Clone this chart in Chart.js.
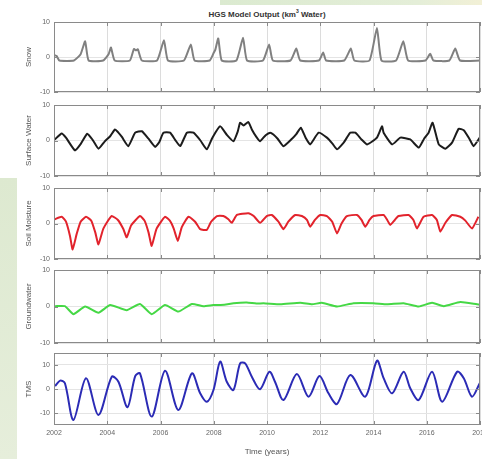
<!DOCTYPE html>
<html>
<head>
<meta charset="utf-8">
<script src="https://cdn.jsdelivr.net/npm/chart.js@4.4.0/dist/chart.umd.min.js"></script>
<style>
body{margin:0;width:482px;height:459px;background:#fff;position:relative;overflow:hidden;font-family:"Liberation Sans",Arial,sans-serif}
.bgTop{position:absolute;left:220px;top:0;width:262px;height:5px;background:linear-gradient(90deg,#dbead0,#e4eed8 75%,#f2f0d6)}
.bgLeft{position:absolute;left:0;top:178px;width:17px;height:281px;background:linear-gradient(180deg,#dde9d0,#e6eedb)}
#title{position:absolute;top:8px;left:54px;width:426px;text-align:center;font-weight:bold;font-size:8px;color:#333}
canvas{position:absolute;left:0}
</style>
</head>
<body>
<div class="bgTop"></div>
<div class="bgLeft"></div>
<div id="title">HGS Model Output (km<sup style="font-size:5px">3</sup> Water)</div>
<canvas id="p0" width="482"></canvas>
<canvas id="p1" width="482"></canvas>
<canvas id="p2" width="482"></canvas>
<canvas id="p3" width="482"></canvas>
<canvas id="p4" width="482"></canvas>
<script>
// tick labels
const xTickValues = [2002, 2004, 2006, 2008, 2010, 2012, 2014, 2016, 2018];
const xTickLabels = ['2002', '2004', '2006', '2008', '2010', '2012', '2014', '2016', '2018'];
const yTickValues = [-10, 0, 10];
const yTickLabels = ['-10', '0', '10'];
const panelNames = ['Snow', 'Surface Water', 'Soil Moisture', 'Groundwater', 'TMS'];

// series values: [year, km3]
const snow = [[2002.0,0.6],[2002.1,0.3],[2002.2,-1],[2002.75,-1],[2003.0,0.8],[2003.17,4.5],[2003.3,-1],
  [2003.85,-1],[2004.05,0.8],[2004.14,2.7],[2004.28,-1],[2004.85,-1],[2005.0,2.3],[2005.08,1.9],[2005.15,2.2],[2005.3,-1],
  [2005.87,-1],[2006.13,4.8],[2006.28,-1],[2006.88,-1],[2007.14,3.6],[2007.28,-1],[2007.85,-1],[2008.0,1.2],[2008.06,2.1],
  [2008.17,5.3],[2008.3,-1],[2008.85,-1],[2009.1,5.5],[2009.25,-1],[2009.85,-1],[2010.08,3.6],[2010.22,-1],[2010.88,-1],
  [2011.1,2.4],[2011.25,-1],[2011.95,-1],[2012.11,1.3],[2012.22,-1],[2012.9,-1],[2013.15,2.4],[2013.28,-1],[2013.85,-1],
  [2014.13,8.3],[2014.3,-1],[2014.85,-1],[2015.12,4.5],[2015.3,-1],[2015.95,-1],[2016.13,0.9],[2016.25,-1],[2016.85,-1],
  [2017.07,2.4],[2017.25,-1],[2018.0,-1]];
const surfaceWater = [[2002.03,0.3],[2002.29,2.0],[2002.45,0.8],[2002.79,-2.8],[2003.0,-1.0],[2003.25,1.9],[2003.45,0.2],
  [2003.67,-2.3],[2003.9,-0.3],[2004.11,1.2],[2004.29,3.1],[2004.41,2.3],[2004.55,1.0],[2004.79,-1.6],[2005.05,2.2],
  [2005.3,2.6],[2005.55,0.5],[2005.8,-1.8],[2005.95,-0.5],[2006.11,2.2],[2006.36,2.2],[2006.55,0.2],[2006.74,-1.6],
  [2006.99,2.2],[2007.24,2.2],[2007.5,0.0],[2007.74,-2.5],[2007.95,0.8],[2008.24,4.0],[2008.5,1.5],[2008.74,-0.2],
  [2008.9,2.5],[2008.99,5.0],[2009.12,4.2],[2009.3,5.2],[2009.43,3.1],[2009.6,1.0],[2009.74,-0.2],[2009.95,1.5],
  [2010.12,2.2],[2010.24,1.7],[2010.4,0.5],[2010.62,-1.6],[2010.94,0.5],[2011.1,1.8],[2011.27,3.6],[2011.45,0.8],
  [2011.62,-1.1],[2011.94,2.2],[2012.25,0.8],[2012.45,-0.8],[2012.63,-2.5],[2012.88,-0.6],[2013.0,0.8],[2013.13,2.2],
  [2013.32,2.2],[2013.55,0.3],[2013.76,-1.1],[2014.13,0.8],[2014.32,4.0],[2014.38,2.2],[2014.7,-1.1],[2015.01,0.8],
  [2015.38,0.3],[2015.7,-2.0],[2015.9,0.5],[2016.07,2.2],[2016.22,5.0],[2016.45,-1.1],[2016.7,-2.3],[2016.95,-0.6],
  [2017.2,3.3],[2017.39,2.9],[2017.6,0.5],[2017.76,-1.6],[2017.99,0.8]];
const soilMoisture = [[2002.03,1.2],[2002.29,1.9],[2002.45,0.5],[2002.6,-3.5],[2002.7,-7.3],[2002.85,-3],[2003.0,0.5],
  [2003.2,1.9],[2003.4,0.8],[2003.55,-2.5],[2003.67,-5.9],[2003.85,-1.5],[2004.16,2.1],[2004.4,1.0],[2004.6,-1.5],
  [2004.73,-3.9],[2004.9,-0.5],[2005.23,2.1],[2005.4,0.8],[2005.55,-2.5],[2005.67,-6.3],[2005.85,-1.5],[2006.17,1.9],
  [2006.35,0.8],[2006.5,-1.5],[2006.65,-4.9],[2006.8,-1.0],[2007.05,1.9],[2007.3,0.5],[2007.49,-1.6],[2007.74,-1.8],
  [2007.9,0.5],[2008.12,2.1],[2008.36,2.1],[2008.55,1.2],[2008.68,0.2],[2008.87,2.4],[2009.3,2.9],[2009.5,2.1],
  [2009.74,0.2],[2009.99,2.1],[2010.18,2.4],[2010.43,0.5],[2010.62,-1.6],[2010.8,0.5],[2011.06,2.4],[2011.31,2.1],
  [2011.5,1.0],[2011.62,-0.9],[2011.8,1.0],[2012.0,2.4],[2012.25,2.1],[2012.45,0.5],[2012.63,-2.8],[2012.8,0],
  [2013.0,2.1],[2013.38,2.4],[2013.55,1.0],[2013.69,-0.9],[2013.85,1.0],[2014.0,2.1],[2014.38,2.4],[2014.5,1.2],
  [2014.63,-0.4],[2014.8,1.0],[2014.94,2.1],[2015.32,2.4],[2015.5,1.0],[2015.63,-1.4],[2015.88,1.9],[2016.2,2.4],
  [2016.38,1.0],[2016.51,-2.3],[2016.7,0.2],[2016.95,2.4],[2017.26,1.9],[2017.45,0.8],[2017.7,-1.4],[2017.94,1.9]];
const groundwater = [[2002.04,0.1],[2002.41,0.1],[2002.73,-2.1],[2003.17,0],[2003.67,-1.7],[2004.11,0.4],[2004.73,-1.0],
  [2005.23,0.7],[2005.67,-2.1],[2006.17,0.4],[2006.67,-1.4],[2007.18,0.7],[2007.61,0.1],[2007.99,0.4],[2008.4,0.5],
  [2008.74,0.9],[2009.24,1.1],[2009.6,0.8],[2009.87,0.9],[2010.5,0.6],[2011.25,1.0],[2011.69,0.6],[2012.06,1.0],
  [2012.63,0.0],[2013.25,0.9],[2014.0,0.9],[2014.51,0.6],[2015.13,0.9],[2015.7,0.0],[2016.2,1.0],[2016.64,0.1],
  [2017.26,1.2],[2017.89,0.6],[2018.0,0.5]];
const tms = [[2002.04,1.25],[2002.23,3.5],[2002.41,2.4],[2002.73,-12.9],[2003.2,4.5],[2003.67,-10.8],[2004.17,5.1],
  [2004.42,3.0],[2004.76,-7.6],[2005.05,5.4],[2005.23,6.5],[2005.67,-11.5],[2006.17,7.6],[2006.67,-8.75],[2007.18,6.5],
  [2007.49,-1.8],[2007.74,-5.3],[2007.99,-0.4],[2008.24,11.4],[2008.49,3.0],[2008.74,-0.4],[2008.99,10.7],[2009.18,10.7],
  [2009.43,5.1],[2009.74,-0.1],[2010.09,7.2],[2010.3,3.0],[2010.62,-4.6],[2011.12,6.25],[2011.56,-3.2],[2011.97,5.4],
  [2012.31,-1.8],[2012.63,-6.25],[2013.13,5.8],[2013.69,-3.2],[2014.13,11.8],[2014.38,4.5],[2014.7,-1.8],[2015.13,7.2],
  [2015.38,0.3],[2015.7,-4.6],[2016.2,7.2],[2016.58,-5.3],[2017.14,7.2],[2017.39,4.5],[2017.7,-3.2],[2017.99,2.4]];

const seriesList = [snow, surfaceWater, soilMoisture, groundwater, tms];
const yRanges = [[-10, 10], [-10, 10], [-10, 10], [-10, 10], [-15, 15]];

// layout (plot box tops / bottoms in page px)
const boxTop = [22, 105, 188, 270, 353];
const boxBottom = [92, 176, 259, 343, 425];
const colors = ['#808080', '#1c1c1c', '#e2232c', '#45d845', '#2b2bb5'];

const boxPlugin = {
  id: 'box',
  afterDraw(chart) {
    const { ctx, chartArea: a, scales } = chart;
    ctx.save();
    ctx.strokeStyle = '#8a8a8a';
    ctx.lineWidth = 1;
    ctx.strokeRect(a.left + 0.5, a.top + 0.5, a.right - a.left - 1, a.bottom - a.top - 1);
    ctx.beginPath();
    xTickValues.forEach(v => {
      const px = Math.round(scales.x.getPixelForValue(v)) + 0.5;
      ctx.moveTo(px, a.top); ctx.lineTo(px, a.top + 4);
      ctx.moveTo(px, a.bottom); ctx.lineTo(px, a.bottom - 4);
    });
    yTickValues.forEach(v => {
      const py = Math.round(scales.y.getPixelForValue(v)) + 0.5;
      ctx.moveTo(a.left, py); ctx.lineTo(a.left + 4, py);
      ctx.moveTo(a.right, py); ctx.lineTo(a.right - 4, py);
    });
    ctx.stroke();
    ctx.restore();
  }
};

function makePanel(i) {
  const last = i === 4;
  const canvas = document.getElementById('p' + i);
  const top = boxTop[i] - 6;
  const bottomExtra = last ? 34 : 6;
  canvas.style.top = top + 'px';
  canvas.height = boxBottom[i] - boxTop[i] + 6 + bottomExtra;

  return new Chart(canvas.getContext('2d'), {
    type: 'line',
    data: {
      datasets: [{
        data: seriesList[i].map(p => ({ x: p[0], y: p[1] })),
        borderColor: colors[i],
        borderWidth: 2,
        pointRadius: 0,
        tension: last ? 0.3 : 0.15,
        fill: false
      }]
    },
    options: {
      responsive: false,
      animation: false,
      layout: { padding: { top: 6, bottom: last ? 0 : 6, left: 0, right: 2 } },
      plugins: { legend: { display: false }, tooltip: { enabled: false } },
      scales: {
        x: {
          type: 'linear',
          min: 2002,
          max: 2018,
          afterBuildTicks: s => { s.ticks = xTickValues.map(v => ({ value: v })); },
          afterFit: s => { s.height = last ? 34 : 0; s.paddingLeft = 0; s.paddingRight = 0; },
          ticks: {
            display: last,
            padding: 4,
            color: '#666',
            font: { size: 7, family: 'Liberation Sans' },
            maxRotation: 0,
            autoSkip: false,
            callback: (v, idx) => xTickLabels[idx]
          },
          grid: { color: '#dcdcdc', drawTicks: false },
          border: { display: false },
          title: {
            display: last,
            text: 'Time (years)',
            color: '#555',
            font: { size: 8, family: 'Liberation Sans' },
            padding: { top: 6, bottom: 2 }
          }
        },
        y: {
          min: yRanges[i][0],
          max: yRanges[i][1],
          afterBuildTicks: s => { s.ticks = yTickValues.map(v => ({ value: v })); },
          afterFit: s => { s.width = 54; s.paddingTop = 0; s.paddingBottom = 0; },
          ticks: {
            padding: 4,
            color: '#666',
            font: { size: 7, family: 'Liberation Sans' },
            callback: (v, idx) => yTickLabels[idx]
          },
          grid: { color: '#e4e4e4', drawTicks: false },
          border: { display: false },
          title: {
            display: true,
            text: panelNames[i],
            color: '#555',
            font: { size: 8, family: 'Liberation Sans' },
            padding: { top: 24, bottom: 0 }
          }
        }
      }
    },
    plugins: [boxPlugin]
  });
}

for (let i = 0; i < 5; i++) makePanel(i);
</script>
</body>
</html>
